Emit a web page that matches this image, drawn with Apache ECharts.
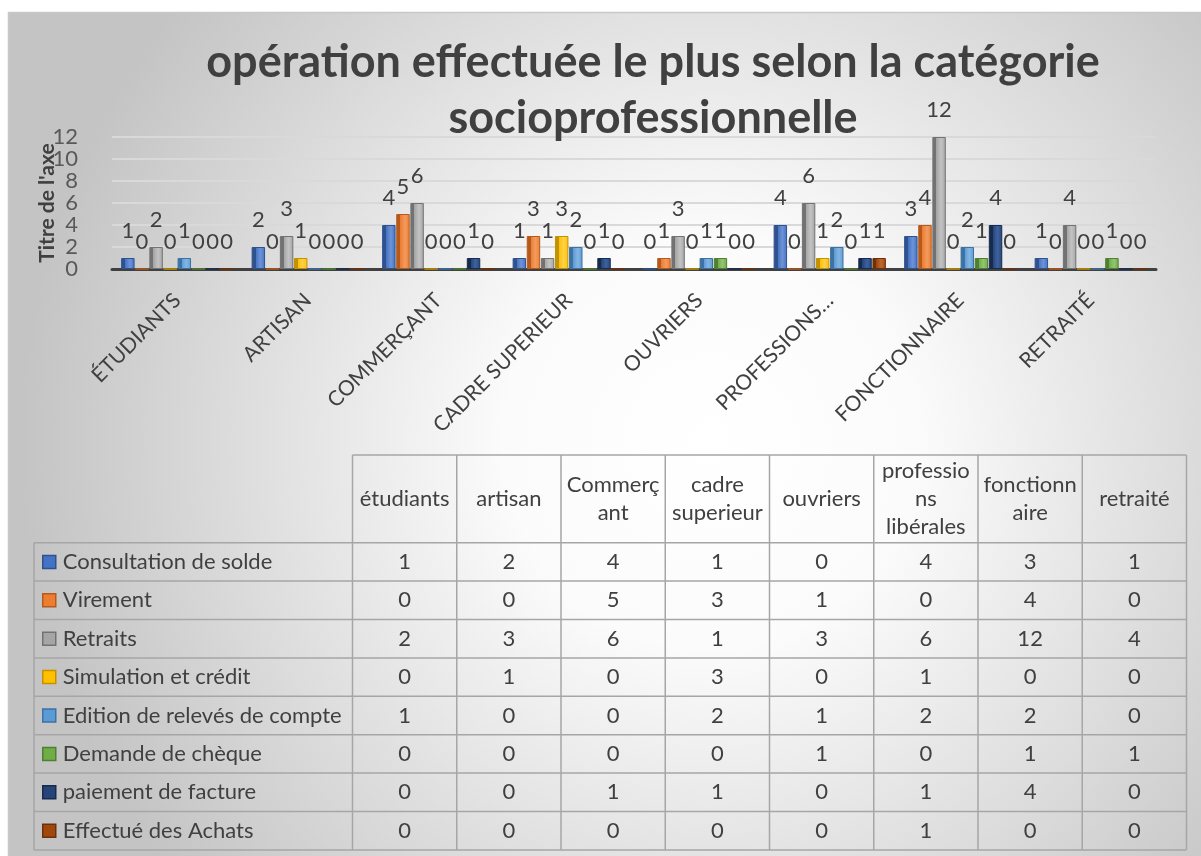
<!DOCTYPE html>
<html>
<head>
<meta charset="utf-8">
<script src="https://cdn.jsdelivr.net/npm/echarts@6/dist/echarts.min.js"></script>
<style>
  html, body { margin: 0; padding: 0; background: #ffffff; }
  #chart { width: 1201px; height: 856px; }
</style>
</head>
<body>
<div id="chart"></div>
<script>
// Categories (socio-professional groups)
const categories = ['étudiants', 'artisan', 'Commerçant', 'cadre superieur', 'ouvriers', 'professions libérales', 'fonctionnaire', 'retraité'];
// Labels shown under the category axis
const axisLabels = ['ÉTUDIANTS', 'ARTISAN', 'COMMERÇANT', 'CADRE SUPERIEUR', 'OUVRIERS', 'PROFESSIONS…', 'FONCTIONNAIRE', 'RETRAITÉ'];
// Column headers of the data table
const headerLabels = ['étudiants', 'artisan', 'Commerç\nant', 'cadre\nsuperieur', 'ouvriers', 'professio\nns\nlibérales', 'fonctionn\naire', 'retraité'];

// Operations (series)
const seriesNames = ['Consultation de solde', 'Virement', 'Retraits', 'Simulation et crédit', 'Edition de relevés de compte', 'Demande de chèque', 'paiement de facture', 'Effectué des Achats'];

// Values per operation, one per category
const consultationSolde = [1, 2, 4, 1, 0, 4, 3, 1];
const virement          = [0, 0, 5, 3, 1, 0, 4, 0];
const retraits          = [2, 3, 6, 1, 3, 6, 12, 4];
const simulationCredit  = [0, 1, 0, 3, 0, 1, 0, 0];
const editionReleves    = [1, 0, 0, 2, 1, 2, 2, 0];
const demandeCheque     = [0, 0, 0, 0, 1, 0, 1, 1];
const paiementFacture   = [0, 0, 1, 1, 0, 1, 4, 0];
const achats            = [0, 0, 0, 0, 0, 1, 0, 0];

// Value axis ticks
const yMin = 0, yMax = 12, yStep = 2;

const seriesValues = [consultationSolde, virement, retraits, simulationCredit, editionReleves, demandeCheque, paiementFacture, achats];

// Office palette: base, shaded side, light face
const palette = [
  ['#4472C4', '#2F528F', '#6E93D6'],
  ['#ED7D31', '#B65A1C', '#F29B60'],
  ['#A5A5A5', '#727272', '#C3C3C3'],
  ['#FFC000', '#C29200', '#FFD24D'],
  ['#5B9BD5', '#3C72A4', '#86B6E2'],
  ['#70AD47', '#4F7F30', '#93C572'],
  ['#264478', '#172B4E', '#3E62A0'],
  ['#9E480E', '#6E3008', '#BF6A31']
];

const FONT = 'Lato, "Open Sans", sans-serif';
const TEXT = '#404040';

function barFill(c) {
  return {
    type: 'linear', x: 0, y: 0, x2: 1, y2: 0,
    colorStops: [
      { offset: 0, color: c[1] },
      { offset: 0.3, color: c[1] },
      { offset: 0.3, color: c[0] },
      { offset: 0.65, color: c[2] },
      { offset: 1, color: c[0] }
    ]
  };
}

// Data table geometry
const tbl = {
  left: 34, colStart: 352.5, colW: 104.25,
  headTop: 455, bodyTop: 542.7, rowH: 38.4, fontSize: 22
};
const tblRight = tbl.colStart + categories.length * tbl.colW;
const tblBottom = tbl.bodyTop + seriesNames.length * tbl.rowH;
const lineStyle = { stroke: '#a6a6a6', lineWidth: 1.5 };

const graphics = [];
// chart area background with radial shading
graphics.push({
  type: 'rect', z: -10, silent: true,
  shape: { x: 8.5, y: 12.5, width: 1210, height: 860 },
  style: {
    fill: {
      type: 'radial', x: 0.58, y: 0.5, r: 0.8,
      colorStops: [
        { offset: 0, color: '#ffffff' },
        { offset: 0.3, color: '#fbfbfb' },
        { offset: 1, color: '#c4c4c4' }
      ]
    },
    stroke: '#c8c8c8', lineWidth: 1.5
  }
});
// table rules
graphics.push({ type: 'line', silent: true, shape: { x1: tbl.colStart, y1: tbl.headTop, x2: tblRight, y2: tbl.headTop }, style: lineStyle });
seriesNames.forEach((_, k) => {
  const y = tbl.bodyTop + k * tbl.rowH;
  graphics.push({ type: 'line', silent: true, shape: { x1: tbl.left, y1: y, x2: tblRight, y2: y }, style: lineStyle });
});
graphics.push({ type: 'line', silent: true, shape: { x1: tbl.left, y1: tblBottom, x2: tblRight, y2: tblBottom }, style: lineStyle });
graphics.push({ type: 'line', silent: true, shape: { x1: tbl.left, y1: tbl.bodyTop, x2: tbl.left, y2: tblBottom }, style: lineStyle });
for (let j = 0; j <= categories.length; j++) {
  const x = tbl.colStart + j * tbl.colW;
  graphics.push({ type: 'line', silent: true, shape: { x1: x, y1: tbl.headTop, x2: x, y2: tblBottom }, style: lineStyle });
}
// header cells
headerLabels.forEach((h, j) => {
  graphics.push({
    type: 'text', silent: true,
    x: tbl.colStart + (j + 0.5) * tbl.colW,
    y: (tbl.headTop + tbl.bodyTop) / 2,
    style: { text: h, fill: TEXT, font: tbl.fontSize + 'px ' + FONT, align: 'center', verticalAlign: 'middle', lineHeight: 28 }
  });
});
// value cells
seriesValues.forEach((vals, k) => {
  vals.forEach((v, j) => {
    graphics.push({
      type: 'text', silent: true,
      x: tbl.colStart + (j + 0.5) * tbl.colW,
      y: tbl.bodyTop + (k + 0.5) * tbl.rowH,
      style: { text: String(v), fill: TEXT, font: tbl.fontSize + 'px ' + FONT, align: 'center', verticalAlign: 'middle' }
    });
  });
});

const chart = echarts.init(document.getElementById('chart'), null, { renderer: 'canvas' });

chart.setOption({
  backgroundColor: '#ffffff',
  animation: false,
  textStyle: { fontFamily: FONT },
  title: {
    text: 'opération effectuée le plus selon la catégorie\nsocioprofessionnelle',
    left: 653, top: 34, padding: 0, textAlign: 'center',
    textStyle: { fontFamily: FONT, fontSize: 45, fontWeight: 'bold', color: TEXT, lineHeight: 56 }
  },
  legend: {
    orient: 'vertical', left: 42, top: tbl.bodyTop + tbl.rowH / 2 - 11,
    itemWidth: 13, itemHeight: 13, itemGap: tbl.rowH - 22,
    icon: 'rect', selectedMode: false, padding: 0,
    textStyle: { fontFamily: FONT, fontSize: tbl.fontSize, color: TEXT, lineHeight: 22, padding: [0, 0, 0, 2] },
    data: seriesNames.map((n, i) => ({
      name: n,
      itemStyle: { color: palette[i][0], borderColor: palette[i][1], borderWidth: 1.5 }
    }))
  },
  grid: { left: 112, right: 45, top: 137, bottom: 587, containLabel: false },
  xAxis: {
    type: 'category',
    data: categories,
    axisLine: { show: true, lineStyle: { color: '#404040', width: 3 } },
    axisTick: { show: false },
    splitLine: { show: false },
    axisLabel: {
      interval: 0, rotate: 45, margin: 28,
      fontFamily: FONT, fontSize: 21, color: TEXT,
      formatter: (v, i) => axisLabels[i]
    }
  },
  yAxis: {
    type: 'value', min: yMin, max: yMax, interval: yStep,
    name: "Titre de l'axe", nameLocation: 'middle', nameRotate: 90, nameGap: 54,
    nameMoveOverlap: false,
    nameTextStyle: { fontFamily: FONT, fontSize: 21, fontWeight: 'bold', color: TEXT },
    axisLine: { show: false },
    axisTick: { show: false },
    axisLabel: { margin: 34, fontFamily: FONT, fontSize: 22, color: '#595959' },
    splitLine: { show: true, lineStyle: { color: '#d9d9d9', width: 2 } }
  },
  series: seriesNames.map((n, i) => ({
    name: n,
    type: 'bar',
    data: seriesValues[i],
    barGap: '5%',
    barCategoryGap: '14%',
    itemStyle: { color: barFill(palette[i]), borderColor: palette[i][1], borderWidth: 1 },
    label: {
      show: true, position: 'top', distance: 16,
      fontFamily: FONT, fontSize: 22, color: TEXT
    }
  })),
  graphic: { elements: graphics }
});
</script>
</body>
</html>
